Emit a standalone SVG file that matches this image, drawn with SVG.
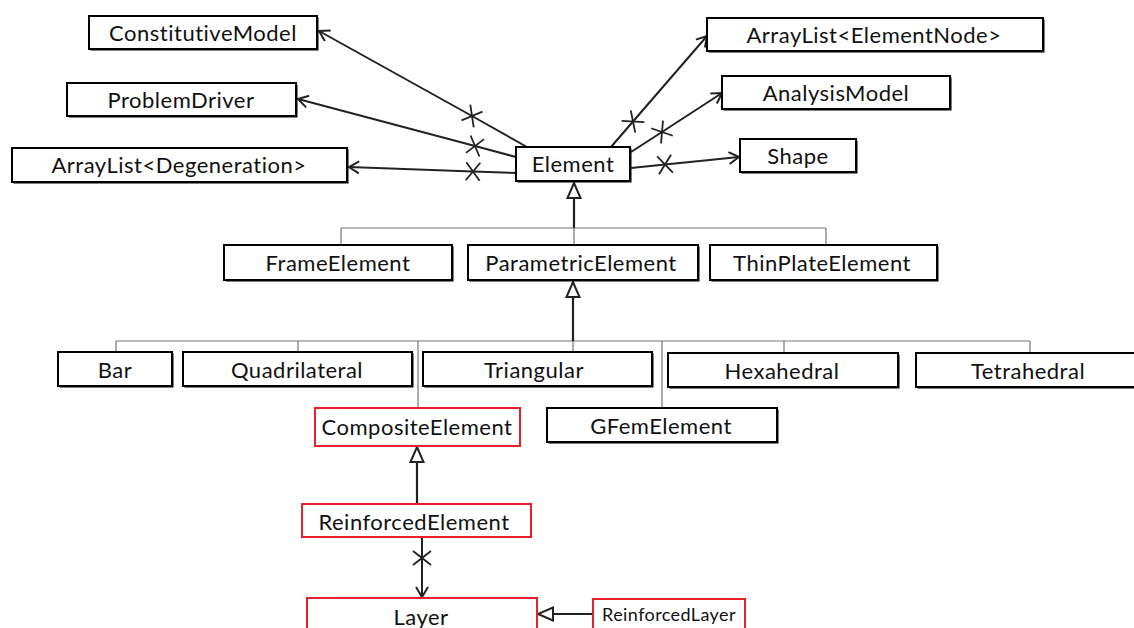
<svg xmlns="http://www.w3.org/2000/svg" width="1134" height="628" viewBox="0 0 1134 628">
  <style>
    .bg { fill: #ffffff; }
    .box { fill: #ffffff; stroke: #000000; stroke-width: 2; }
    .shadow { fill: #000000; }
    .rbox { fill: #ffffff; stroke: #e8202a; stroke-width: 2; }
    .lbl { font-family: Lato, "Liberation Sans", sans-serif; font-size: 22px; letter-spacing: 0.5px; fill: #111111; text-anchor: middle; }
    .small { font-size: 18px; letter-spacing: 0.4px; }
    .assoc { fill: none; stroke: #222222; stroke-width: 2; marker-mid: url(#cross); marker-end: url(#open); }
    .gen { fill: none; stroke: #222222; stroke-width: 2.2; marker-end: url(#tri); }
    .tree { fill: none; stroke: #777777; stroke-width: 1.2; }
  </style>
  <defs>
    <marker id="open" markerUnits="userSpaceOnUse" markerWidth="16" markerHeight="16" refX="11" refY="7" orient="auto" overflow="visible">
      <path d="M1,1 L11,7 L1,13" fill="none" stroke="#222222" stroke-width="2"/>
    </marker>
    <marker id="tri" markerUnits="userSpaceOnUse" markerWidth="18" markerHeight="16" refX="16" refY="7" orient="auto" overflow="visible">
      <path d="M1,0.5 L16,7 L1,13.5 Z" fill="#ffffff" stroke="#222222" stroke-width="2"/>
    </marker>
    <marker id="cross" markerUnits="userSpaceOnUse" markerWidth="20" markerHeight="20" refX="0" refY="0" orient="auto" overflow="visible">
      <path d="M-7,-9 L7,9 M-7,9 L7,-9" fill="none" stroke="#222222" stroke-width="1.8"/>
    </marker>
  </defs>
  <rect class="bg" x="0" y="0" width="1134" height="628"/>

  <!-- connectors -->
  <g id="connectors">
    <!-- associations out of Element -->
    <path class="assoc" d="M527,147 L472,116 L319,31"/>
    <path class="assoc" d="M516,157 L475,146 L298,99"/>
    <path class="assoc" d="M516,173 L473,171.5 L349,167"/>
    <path class="assoc" d="M611,147 L633,121.5 L707,36"/>
    <path class="assoc" d="M631,152 L662,132 L722,93"/>
    <path class="assoc" d="M631,168 L665,164.5 L739,157"/>
    <!-- inheritance tree under Element -->
    <path class="tree" d="M341,228 L826,228 M341,228 L341,245 M826,228 L826,245 M574,228 L574,245"/>
    <path class="gen" d="M574,228 L574,183"/>
    <!-- inheritance tree under ParametricElement -->
    <path class="tree" d="M116,341 L1030,341 M116,341 L116,352 M298,341 L298,352 M418,341 L418,408 M662,341 L662,408 M784,341 L784,353 M1030,341 L1030,353 M573,341 L573,352"/>
    <path class="gen" d="M573,341 L573,282"/>
    <!-- ReinforcedElement extends CompositeElement -->
    <path class="gen" d="M417,504 L417,447"/>
    <!-- ReinforcedElement owns Layer -->
    <path class="assoc" d="M422,538 L422,558 L422,597"/>
    <!-- ReinforcedLayer extends Layer -->
    <path class="gen" d="M593,614 L538,614"/>
  </g>

  <g id="ConstitutiveModel">
    <rect class="shadow" x="90.5" y="17.5" width="228" height="33"/>
    <rect class="box" x="89" y="16" width="228" height="33"/>
    <text class="lbl" x="203" y="40.5">ConstitutiveModel</text>
  </g>
  <g id="ProblemDriver">
    <rect class="shadow" x="68.5" y="84.5" width="229" height="33"/>
    <rect class="box" x="67" y="83" width="229" height="33"/>
    <text class="lbl" x="181" y="107.5">ProblemDriver</text>
  </g>
  <g id="ArrayListDegeneration">
    <rect class="shadow" x="13.5" y="149.5" width="335" height="34"/>
    <rect class="box" x="12" y="148" width="335" height="34"/>
    <text class="lbl" x="179" y="173">ArrayList&lt;Degeneration&gt;</text>
  </g>
  <g id="Element">
    <rect class="shadow" x="517.5" y="148.5" width="114" height="34"/>
    <rect class="box" x="516" y="147" width="114" height="34"/>
    <text class="lbl" x="573" y="172">Element</text>
  </g>
  <g id="ArrayListElementNode">
    <rect class="shadow" x="708.5" y="19.5" width="336" height="33"/>
    <rect class="box" x="707" y="18" width="336" height="33"/>
    <text class="lbl" x="874" y="42.5">ArrayList&lt;ElementNode&gt;</text>
  </g>
  <g id="AnalysisModel">
    <rect class="shadow" x="723.5" y="77.5" width="228" height="33"/>
    <rect class="box" x="722" y="76" width="228" height="33"/>
    <text class="lbl" x="836" y="100.5">AnalysisModel</text>
  </g>
  <g id="Shape">
    <rect class="shadow" x="741.5" y="140.5" width="116" height="33"/>
    <rect class="box" x="740" y="139" width="116" height="33"/>
    <text class="lbl" x="798" y="163.5">Shape</text>
  </g>
  <g id="FrameElement">
    <rect class="shadow" x="225.5" y="246.5" width="228" height="35"/>
    <rect class="box" x="224" y="245" width="228" height="35"/>
    <text class="lbl" x="338" y="271">FrameElement</text>
  </g>
  <g id="ParametricElement">
    <rect class="shadow" x="469.5" y="246.5" width="230" height="35"/>
    <rect class="box" x="468" y="245" width="230" height="35"/>
    <text class="lbl" x="581" y="271">ParametricElement</text>
  </g>
  <g id="ThinPlateElement">
    <rect class="shadow" x="711.5" y="246.5" width="227" height="35"/>
    <rect class="box" x="710" y="245" width="227" height="35"/>
    <text class="lbl" x="822" y="271">ThinPlateElement</text>
  </g>
  <g id="Bar">
    <rect class="shadow" x="59.5" y="353.5" width="114" height="34"/>
    <rect class="box" x="58" y="352" width="114" height="34"/>
    <text class="lbl" x="115" y="377.5">Bar</text>
  </g>
  <g id="Quadrilateral">
    <rect class="shadow" x="184.5" y="353.5" width="229" height="34"/>
    <rect class="box" x="183" y="352" width="229" height="34"/>
    <text class="lbl" x="297" y="377.5">Quadrilateral</text>
  </g>
  <g id="Triangular">
    <rect class="shadow" x="424.5" y="353.5" width="229" height="34"/>
    <rect class="box" x="423" y="352" width="229" height="34"/>
    <text class="lbl" x="534" y="377.5">Triangular</text>
  </g>
  <g id="Hexahedral">
    <rect class="shadow" x="669.5" y="354.5" width="230" height="34"/>
    <rect class="box" x="668" y="353" width="230" height="34"/>
    <text class="lbl" x="782" y="378.5">Hexahedral</text>
  </g>
  <g id="Tetrahedral">
    <rect class="shadow" x="917.5" y="354.5" width="230" height="34"/>
    <rect class="box" x="916" y="353" width="230" height="34"/>
    <text class="lbl" x="1028" y="378.5">Tetrahedral</text>
  </g>
  <g id="CompositeElement">
    <rect class="rbox" x="315" y="408" width="205" height="38"/>
    <text class="lbl" x="417" y="434.5">CompositeElement</text>
  </g>
  <g id="GFemElement">
    <rect class="shadow" x="548.5" y="409.5" width="230" height="34"/>
    <rect class="box" x="547" y="408" width="230" height="34"/>
    <text class="lbl" x="661" y="433.5">GFemElement</text>
  </g>
  <g id="ReinforcedElement">
    <rect class="rbox" x="302" y="504" width="229" height="33"/>
    <text class="lbl" x="414" y="529.5">ReinforcedElement</text>
  </g>
  <g id="Layer">
    <rect class="rbox" x="307" y="598" width="230" height="40"/>
    <text class="lbl" x="421" y="625">Layer</text>
  </g>
  <g id="ReinforcedLayer">
    <rect class="rbox" x="593" y="599" width="152" height="32"/>
    <text class="lbl small" x="669" y="621">ReinforcedLayer</text>
  </g>
</svg>
